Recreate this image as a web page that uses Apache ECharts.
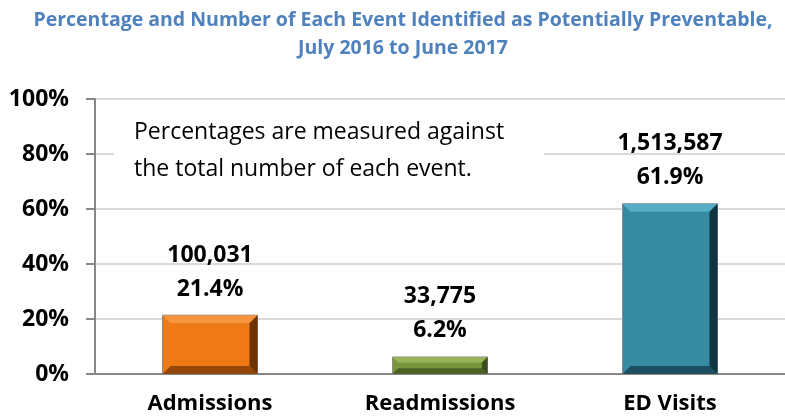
<!DOCTYPE html>
<html>
<head>
<meta charset="utf-8">
<script src="https://cdn.jsdelivr.net/npm/echarts@6/dist/echarts.min.js"></script>
<style>
  html, body { margin: 0; padding: 0; background: #fff; }
  #main { width: 785px; height: 419px; }
</style>
</head>
<body>
<div id="main"></div>
<script>
// data
const categories = ['Admissions', 'Readmissions', 'ED Visits'];
const percents = [21.4, 6.2, 61.9];
const counts = [100031, 33775, 1513587];
const yTicks = [0, 20, 40, 60, 80, 100];

// bevel colours per bar: [main, light, dark]
const barColors = [
  ['#ef7915', '#f79a45', '#6e3303'],
  ['#77953a', '#9bba5d', '#3b4d1a'],
  ['#368ba2', '#5bb4cb', '#0f3542']
];

const chart = echarts.init(document.getElementById('main'));

const fontFam = '"Open Sans", "DejaVu Sans", sans-serif';

function renderBevel(params, api) {
  const idx = params.dataIndex;
  const top = api.coord([api.value(0), api.value(1)]);
  const base = api.coord([api.value(0), 0]);
  const w = 95;
  const l = top[0] - w / 2, r = top[0] + w / 2;
  const t = top[1], b = base[1];
  const bv = Math.min(8, (b - t) / 3);
  const c = barColors[idx];
  return {
    type: 'group',
    children: [
      { type: 'rect', shape: { x: l, y: t, width: w, height: b - t },
        style: { fill: c[0], stroke: '#8a8a8a', lineWidth: 1 } },
      { type: 'polygon', shape: { points: [[l, t], [r, t], [r - bv, t + bv], [l + bv, t + bv]] },
        style: { fill: c[1], opacity: 0.85 } },
      { type: 'polygon', shape: { points: [[r, t], [r, b], [r - bv, b - bv], [r - bv, t + bv]] },
        style: { fill: c[2] } },
      { type: 'polygon', shape: { points: [[l, b], [r, b], [r - bv, b - bv], [l + bv, b - bv]] },
        style: { fill: c[2], opacity: 0.7 } }
    ]
  };
}

const option = {
  animation: false,
  title: {
    text: 'Percentage and Number of Each Event Identified as Potentially Preventable,\nJuly 2016 to June 2017',
    left: 398,
    textAlign: 'center',
    top: 1,
    textStyle: { color: '#4f81bd', fontSize: 19.5, fontWeight: 'bold', fontFamily: fontFam, lineHeight: 28 }
  },
  grid: { left: 95, right: 0, top: 99, bottom: 45 },
  xAxis: {
    type: 'category',
    data: categories,
    axisLine: { lineStyle: { color: '#878787', width: 2 } },
    axisTick: { show: false },
    axisLabel: { color: '#000', fontSize: 22, fontWeight: 'bold', fontFamily: fontFam, margin: 19 }
  },
  yAxis: {
    type: 'value',
    min: 0,
    max: 100,
    interval: 20,
    axisLine: { show: true, lineStyle: { color: '#878787', width: 2 } },
    axisTick: { show: true, inside: false, length: 9, lineStyle: { color: '#878787', width: 2 } },
    splitLine: { lineStyle: { color: '#d9d9d9', width: 2 } },
    axisLabel: {
      color: '#000', fontSize: 23, fontWeight: 'bold', fontFamily: fontFam, margin: 26,
      formatter: v => yTicks.includes(v) ? v + '%' : ''
    }
  },
  graphic: [
    { type: 'rect', left: 114, top: 108, shape: { width: 430, height: 92 },
      style: { fill: '#fff' }, z: 5 },
    { type: 'text', left: 134, top: 114, z: 6,
      style: { text: 'Percentages are measured against\nthe total number of each event.',
        font: '23px ' + fontFam, fill: '#000', lineHeight: 37 } }
  ],
  series: [
    {
      type: 'bar',
      data: percents,
      barWidth: 95,
      itemStyle: { color: 'rgba(0,0,0,0)' },
      label: {
        show: true,
        position: 'top',
        distance: 9,
        color: '#000',
        fontSize: 23,
        fontWeight: 'bold',
        fontFamily: fontFam,
        lineHeight: 34,
        formatter: p => counts[p.dataIndex].toLocaleString('en-US') + '\n' + p.value.toFixed(1) + '%'
      },
      z: 10
    },
    {
      type: 'custom',
      renderItem: renderBevel,
      data: percents.map((v, i) => [i, v]),
      encode: { x: 0, y: 1 },
      z: 3
    }
  ]
};

chart.setOption(option);
</script>
</body>
</html>
